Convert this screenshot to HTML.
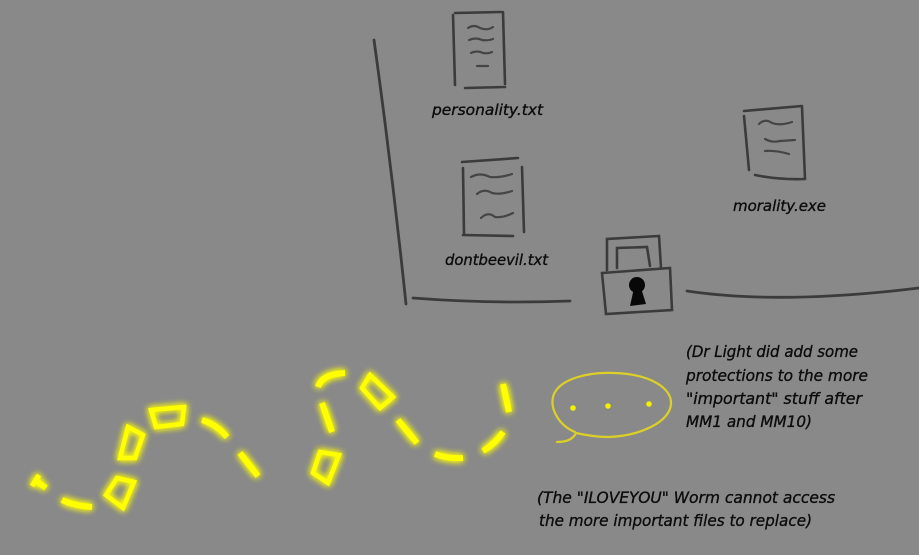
<!DOCTYPE html>
<html>
<head>
<meta charset="utf-8">
<style>
html,body{margin:0;padding:0;background:#898989;}
svg{display:block;}
text{font-family:"DejaVu Sans","Liberation Sans",sans-serif;font-style:italic;fill:#0c0c0c;stroke:#0c0c0c;stroke-width:0.35px;font-size:15px;}
text.n{font-size:16px;}
</style>
</head>
<body>
<svg width="919" height="555" viewBox="0 0 919 555" xmlns="http://www.w3.org/2000/svg">
<defs>
<filter id="glow" x="-50%" y="-50%" width="200%" height="200%">
<feGaussianBlur in="SourceGraphic" stdDeviation="3.5" result="b"/>
<feMerge><feMergeNode in="b"/><feMergeNode in="b"/><feMergeNode in="SourceGraphic"/></feMerge>
</filter>
</defs>
<rect width="919" height="555" fill="#898989"/>

<!-- container walls -->
<g fill="none" stroke="#333" stroke-width="2.8" stroke-linecap="round" opacity="0.9">
<path d="M374,40 Q392,170 406,304"/>
<path d="M413,298 Q490,304 570,301"/>
<path d="M687,291 Q780,305 919,288"/>
</g>

<!-- file icons -->
<g fill="none" stroke="#333" stroke-width="2.6" stroke-linecap="round" opacity="0.9">
<path d="M453,15 L455,85"/><path d="M503,12 L505,84"/>
<path d="M455,13 L501,12"/><path d="M465,88 L505,87"/>
<path d="M462,162 L518,158"/><path d="M463,168 L464,234"/>
<path d="M522,167 L524,232"/><path d="M463,235 L513,236"/>
<path d="M744,111 L802,106"/><path d="M802,107 L805,179"/>
<path d="M744,116 L749,170"/><path d="M755,175 Q780,180 805,179"/>
</g>
<g fill="none" stroke="#3a3a3a" stroke-width="2.2" stroke-linecap="round" opacity="0.85">
<path d="M468,28 Q474,24 480,28 Q487,31 493,27"/>
<path d="M469,40 Q476,37 482,40 Q488,41 493,39"/>
<path d="M471,53 Q477,50 483,53 Q488,54 492,52"/>
<path d="M477,66 L488,66"/>
<path d="M471,177 Q480,172 490,177 Q500,178 512,174"/>
<path d="M477,194 Q484,188 492,193 Q500,195 512,191"/>
<path d="M481,218 Q488,211 495,217 Q503,218 513,213"/>
<path d="M759,124 Q765,118 772,123 Q780,126 792,122"/>
<path d="M765,139 Q772,143 780,141 L795,140"/>
<path d="M765,151 Q775,150 789,154"/>
</g>

<!-- lock -->
<g fill="none" stroke="#333" stroke-width="2.6" stroke-linecap="round" opacity="0.9">
<path d="M607,270 L607,239 L659,236 L661,268"/>
<path d="M617,268 L617,248 L647,247 L650,266"/>
<path d="M602,273 L670,268 L672,310 L606,314 Z"/>
</g>
<circle cx="637" cy="285" r="8" fill="#080808"/>
<path d="M634,288 L630,306 L646,304 L641,288 Z" fill="#080808"/>

<!-- labels -->
<text x="432" y="115" textLength="111" lengthAdjust="spacingAndGlyphs">personality.txt</text>
<text x="445" y="265" textLength="103" lengthAdjust="spacingAndGlyphs">dontbeevil.txt</text>
<text x="733" y="211" textLength="93" lengthAdjust="spacingAndGlyphs">morality.exe</text>

<text class="n" x="686" y="357" textLength="172" lengthAdjust="spacingAndGlyphs">(Dr Light did add some</text>
<text class="n" x="686" y="381" textLength="182" lengthAdjust="spacingAndGlyphs">protections to the more</text>
<text class="n" x="686" y="404" textLength="176" lengthAdjust="spacingAndGlyphs">"important" stuff after</text>
<text class="n" x="686" y="427" textLength="126" lengthAdjust="spacingAndGlyphs">MM1 and MM10)</text>

<text class="n" x="537" y="503" textLength="298" lengthAdjust="spacingAndGlyphs">(The "ILOVEYOU" Worm cannot access</text>
<text class="n" x="539" y="526" textLength="273" lengthAdjust="spacingAndGlyphs">the more important files to replace)</text>

<!-- speech bubble -->
<g fill="none" stroke="#dcd028" stroke-width="2.2" stroke-linecap="round">
<path d="M575,432 C560,426 550,410 553,397 C558,378 590,372 614,373 C650,374 672,388 671,404 C670,422 640,436 608,437 C596,437 585,435 576,433"/>
<path d="M576,433 Q572,442 557,442"/>
</g>
<g fill="#f5f000">
<circle cx="573" cy="408" r="2.8"/>
<circle cx="608" cy="406" r="2.8"/>
<circle cx="649" cy="404" r="2.8"/>
</g>

<!-- worm -->
<g filter="url(#glow)" fill="none" stroke="#ffff00" stroke-width="6" stroke-linecap="butt" stroke-linejoin="miter">
<path d="M35,480 L46,488"/>
<path d="M32,486 L39,475" stroke-width="5"/>
<path d="M62,500 Q75,506 92,507"/>
<polygon points="117,478 134,482 123,508 106,495" stroke-width="4.5"/>
<polygon points="128,427 143,435 135,458 120,458" stroke-width="4.5"/>
<polygon points="151,410 184,407 182,424 156,427" stroke-width="4.5"/>
<path d="M202,420 Q216,424 227,437"/>
<path d="M240,453 L258,476"/>
<polygon points="320,452 339,455 328,483 313,473" stroke-width="4.5"/>
<path d="M322,403 L332,432"/>
<path d="M318,387 Q322,374 345,373"/>
<polygon points="362,388 370,375 393,397 380,408" stroke-width="4.5"/>
<path d="M398,420 L417,443"/>
<path d="M435,454 Q448,459 463,458"/>
<path d="M483,451 Q496,443 503,432"/>
<path d="M503,384 L509,412"/>
</g>
</svg>
</body>
</html>
